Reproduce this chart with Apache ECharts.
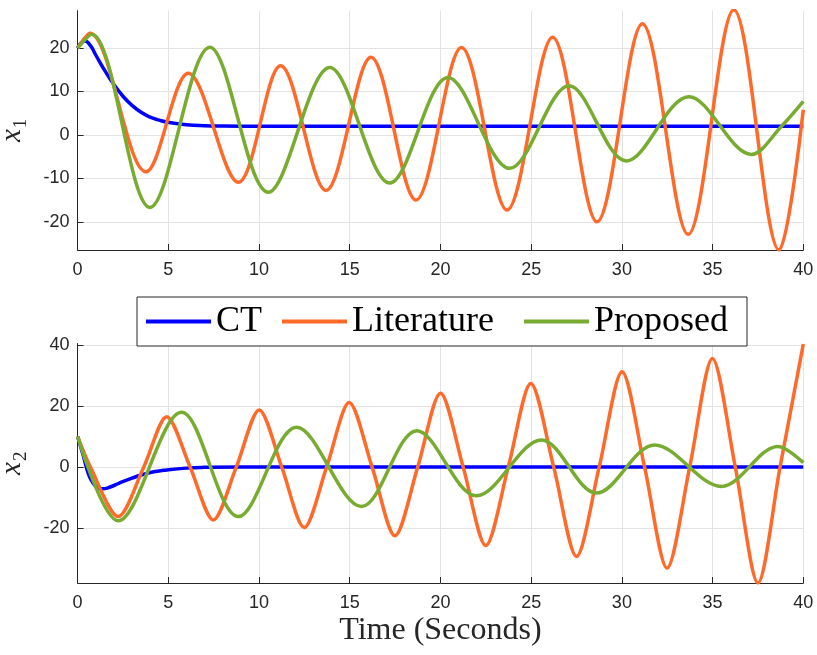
<!DOCTYPE html>
<html>
<head>
<meta charset="utf-8">
<script src="https://cdn.jsdelivr.net/npm/echarts@6/dist/echarts.min.js"></script>
<style>html,body{margin:0;padding:0;background:#fff}#c{width:817px;height:655px}</style>
</head>
<body>
<div id="c"></div>
<script>
// ---- data ----
const seriesNames = ['CT', 'Literature', 'Proposed'];
const xTicks = [0, 5, 10, 15, 20, 25, 30, 35, 40];
const x1Ticks = [-20, -10, 0, 10, 20];
const x2Ticks = [-20, 0, 20, 40];

// x1 (top): CT samples, and peaks / troughs of the oscillating responses
const ctX1T = [0, 0.2, 0.4, 0.7, 1.0, 1.5, 2.0, 2.5, 3.0, 3.5, 4.0, 4.5, 5.0, 6.0, 7.0, 8.0, 10, 40];
const ctX1V = [20, 21.2, 21.6, 20.6, 18.4, 14.8, 11.6, 8.9, 6.8, 5.2, 4.1, 3.4, 2.9, 2.35, 2.12, 2.04, 2.0, 2.0];
const litX1T = [0, 0.68, 3.77, 6.1, 8.86, 11.19, 13.69, 16.17, 18.65, 21.16, 23.67, 26.18, 28.63, 31.13, 33.65, 36.17, 38.66, 40];
const litX1V = [20, 23.4, -8.5, 14.2, -10.9, 15.9, -12.8, 17.9, -15, 20.1, -17.3, 22.5, -20, 25.6, -22.9, 28.8, -26.5, 5.8];
const proX1T = [0, 0.78, 3.99, 7.29, 10.51, 13.9, 17.21, 20.42, 23.82, 27.09, 30.25, 33.69, 37.14, 38.8, 40];
const proX1V = [20, 23.2, -16.7, 20.2, -13.2, 15.5, -11.1, 13.2, -7.7, 11.3, -6.0, 8.8, -4.5, 2.0, 7.7];

// x2 (bottom)
const ctX2T = [0, 0.3, 0.6, 0.85, 1.1, 1.35, 1.8, 2.3, 3.0, 3.6, 4.2, 4.9, 6.0, 7.0, 9.0, 40];
const ctX2V = [10, 4.0, -2.4, -5.3, -6.8, -7.2, -6.6, -5.3, -3.7, -2.5, -1.6, -1.0, -0.4, -0.15, 0, 0];
const litX2T = [0, 0.7, 2.24, 3.65, 4.91, 6.2, 7.48, 8.75, 10.01, 11.25, 12.49, 13.73, 14.97, 16.23, 17.49, 18.75, 20.0, 21.25, 22.5, 23.74, 24.98, 26.24, 27.5, 28.75, 30.01, 31.25, 32.49, 33.74, 34.99, 36.25, 37.5, 38.72, 40];
const litX2V = [10, 0, -16.3, 0, 16.5, 0, -17.4, 0, 18.7, 0, -19.9, 0, 21.1, 0, -22.6, 0, 24.2, 0, -25.8, 0, 27.4, 0, -29.4, 0, 31.2, 0, -33.2, 0, 35.6, 0, -38.1, 0, 40.3];
const proX2T = [0, 2.24, 5.73, 8.86, 12.07, 15.65, 18.7, 21.99, 25.57, 28.6, 31.81, 35.49, 38.6, 40];
const proX2V = [10, -17.7, 17.9, -16.3, 13.0, -13.0, 11.9, -9.5, 8.85, -8.6, 7.2, -6.4, 6.7, 1.4];

// ---- chart ----
const zip = (t, v) => t.map((x, i) => [x, v[i]]);
const colors = {CT: '#0000ff', Literature: '#ff6929', Proposed: '#77ac30'};
const axisColor = '#262626';
const gridColor = '#e3e3e3';
const tickFont = {fontFamily: 'Liberation Sans, Arial, sans-serif', fontSize: 18, color: axisColor};

function xAxis(gridIndex, withName) {
  const a = {
    type: 'value', gridIndex: gridIndex, min: 0, max: 40, interval: 5,
    axisLine: {show: true, onZero: false, lineStyle: {color: axisColor, width: 1}},
    axisTick: {show: true, inside: true, length: 6, lineStyle: {color: axisColor}},
    axisLabel: Object.assign({margin: 11, formatter: v => String(v)}, tickFont),
    splitLine: {show: true, lineStyle: {color: gridColor, width: 1}}
  };
  if (withName) {
    a.name = 'Time (Seconds)';
    a.nameLocation = 'middle';
    a.nameGap = 32;
    a.nameTextStyle = {fontFamily: 'Liberation Serif, serif', fontSize: 32, color: axisColor};
  }
  return a;
}
function yAxis(gridIndex, min, max, ticks, sub) {
  return {
    type: 'value', gridIndex: gridIndex, min: min, max: max,
    axisLine: {show: true, onZero: false, lineStyle: {color: axisColor, width: 1}},
    axisTick: {show: true, inside: true, length: 6, customValues: ticks, lineStyle: {color: axisColor}},
    axisLabel: Object.assign({margin: 8, customValues: ticks}, tickFont),
    splitLine: {show: true, lineStyle: {color: gridColor, width: 1}},
    name: '{x|x}{s|' + sub + '}',
    nameLocation: 'middle',
    nameRotate: 90,
    nameGap: 50,
    nameTextStyle: {
      rich: {
        x: {fontFamily: 'Liberation Serif, serif', fontStyle: 'italic', fontSize: 29, color: axisColor, lineHeight: 30},
        s: {fontFamily: 'Liberation Serif, serif', fontSize: 19, color: axisColor, lineHeight: 30, verticalAlign: 'bottom', padding: [0, 0, -3, 1]}
      }
    }
  };
}
function line(name, t, v, xi, yi, smooth) {
  return {
    name: name, type: 'line', xAxisIndex: xi, yAxisIndex: yi,
    data: zip(t, v), showSymbol: false, symbol: 'none', smooth: smooth, clip: true,
    color: colors[name],
    itemStyle: {color: colors[name]},
    lineStyle: {color: colors[name], width: 3.5},
    emphasis: {disabled: true}, silent: true
  };
}

const legendKey = {CT: 'a', Literature: 'b', Proposed: 'c'};
const legendFont = {fontFamily: 'Liberation Serif, serif', fontSize: 36, color: '#000', lineHeight: 41};

const option = {
  animation: false,
  backgroundColor: '#fff',
  grid: [
    {left: 77.6, right: 13.7, top: 10.7, height: 239.3, outerBoundsMode: 'none', containLabel: false},
    {left: 77.6, right: 13.7, top: 343.5, height: 239.5, outerBoundsMode: 'none', containLabel: false}
  ],
  xAxis: [xAxis(0, false), xAxis(1, true)],
  yAxis: [yAxis(0, -26.5, 28.6, x1Ticks, '1'), yAxis(1, -38.1, 40.5, x2Ticks, '2')],
  legend: {
    data: seriesNames,
    left: 137, top: 297,
    orient: 'horizontal',
    padding: [4, 7, 4, 9],
    itemGap: 15,
    itemWidth: 65,
    itemHeight: 4,
    icon: 'rect',
    backgroundColor: '#fff',
    borderColor: axisColor,
    borderWidth: 1,
    borderRadius: 0,
    selectedMode: false,
    formatter: name => '{' + legendKey[name] + '|' + name + '}',
    textStyle: Object.assign({}, legendFont, {
      rich: {
        a: Object.assign({width: 51}, legendFont),
        b: Object.assign({width: 157}, legendFont),
        c: Object.assign({width: 146}, legendFont)
      }
    })
  },
  series: [
    line('CT', ctX1T, ctX1V, 0, 0, 0.5),
    line('Literature', litX1T, litX1V, 0, 0, 0.34),
    line('Proposed', proX1T, proX1V, 0, 0, 0.34),
    line('CT', ctX2T, ctX2V, 1, 1, 0.5),
    line('Literature', litX2T, litX2V, 1, 1, 0.3),
    line('Proposed', proX2T, proX2V, 1, 1, 0.34)
  ]
};
const chart = echarts.init(document.getElementById('c'), null, {renderer: 'canvas'});
chart.setOption(option);
</script>
</body>
</html>
